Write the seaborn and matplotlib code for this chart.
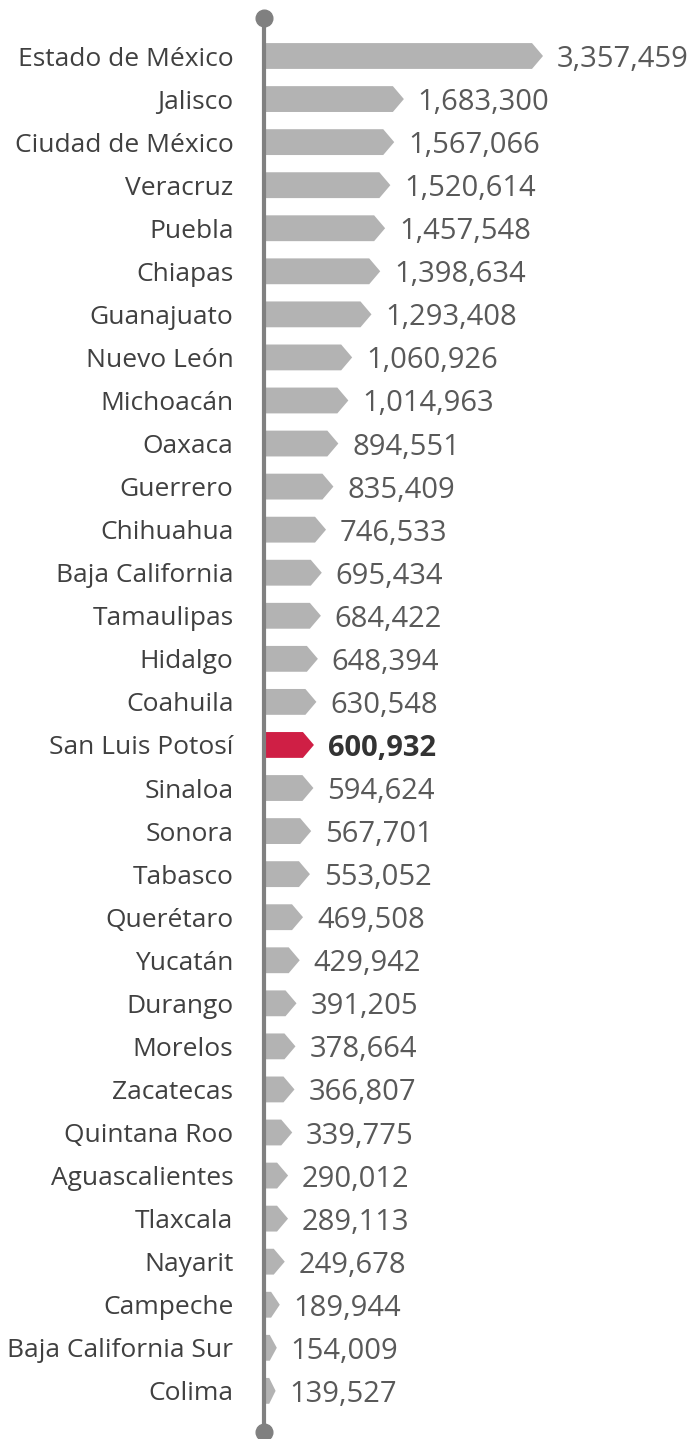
import matplotlib
matplotlib.use('Agg')
import matplotlib.pyplot as plt
import seaborn as sns
import pandas as pd
from matplotlib.patches import Polygon

# Data
states = ['Estado de México', 'Jalisco', 'Ciudad de México', 'Veracruz', 'Puebla',
          'Chiapas', 'Guanajuato', 'Nuevo León', 'Michoacán', 'Oaxaca', 'Guerrero',
          'Chihuahua', 'Baja California', 'Tamaulipas', 'Hidalgo', 'Coahuila',
          'San Luis Potosí', 'Sinaloa', 'Sonora', 'Tabasco', 'Querétaro', 'Yucatán',
          'Durango', 'Morelos', 'Zacatecas', 'Quintana Roo', 'Aguascalientes',
          'Tlaxcala', 'Nayarit', 'Campeche', 'Baja California Sur', 'Colima']
values = [3357459, 1683300, 1567066, 1520614, 1457548, 1398634, 1293408, 1060926,
          1014963, 894551, 835409, 746533, 695434, 684422, 648394, 630548, 600932,
          594624, 567701, 553052, 469508, 429942, 391205, 378664, 366807, 339775,
          290012, 289113, 249678, 189944, 154009, 139527]
highlight = 'San Luis Potosí'

df = pd.DataFrame({'estado': states, 'valor': values})

gray = '#b3b3b3'
red = '#cf1f45'
palette = {s: (red if s == highlight else gray) for s in states}

W, H = 690, 1439
fig = plt.figure(figsize=(W / 100, H / 100), dpi=100)
x0 = 264
ax = fig.add_axes([x0 / W, 0, 1 - x0 / W, 1])

sns.barplot(data=df, y='estado', x='valor', hue='estado', palette=palette,
            width=0.6, legend=False, ax=ax, saturation=1)

px_per_unit = (543 - x0) / values[0]
ax.set_xlim(0, (W - x0) / px_per_unit)
row0, step = 56, 43.06
ax.set_ylim((H - row0) / step, -row0 / step)

# replace rectangles with arrow-shaped bars
tip = 11 / px_per_unit
for p in list(ax.patches):
    x, y = p.get_x(), p.get_y()
    w, h = p.get_width(), p.get_height()
    d = min(tip, w * 0.55)
    poly = Polygon([(x, y), (x + w - d, y), (x + w, y + h / 2),
                    (x + w - d, y + h), (x, y + h)], closed=True,
                   facecolor=p.get_facecolor(), edgecolor='none', zorder=2)
    p.remove()
    ax.add_patch(poly)

font = 'Open Sans'
for i, (s, v) in enumerate(zip(states, values)):
    hl = s == highlight
    ax.annotate(f'{v:,}', xy=(v, i), xytext=(10, 0), textcoords='offset points',
                ha='left', va='center_baseline', fontsize=21, family=font,
                fontweight='bold' if hl else 'normal',
                color='#333333' if hl else '#595959')

# vertical axis line with end dots
ytop, ybot = (18 - row0) / step, (1432 - row0) / step
ax.plot([0, 0], [ytop, ybot], color='#808080', lw=3, zorder=3, clip_on=False,
        solid_capstyle='butt')
ax.plot([0, 0], [ytop, ybot], 'o', color='#808080', ms=12, zorder=3, clip_on=False)

ax.set_yticks(range(len(states)))
ax.set_yticklabels(states, fontsize=19, family=font, color='#404040')
ax.tick_params(axis='y', length=0, pad=22)
ax.set_xticks([])
ax.set_xlabel('')
ax.set_ylabel('')
for sp in ax.spines.values():
    sp.set_visible(False)
ax.patch.set_alpha(0)

fig.savefig('out.png', dpi=100)
